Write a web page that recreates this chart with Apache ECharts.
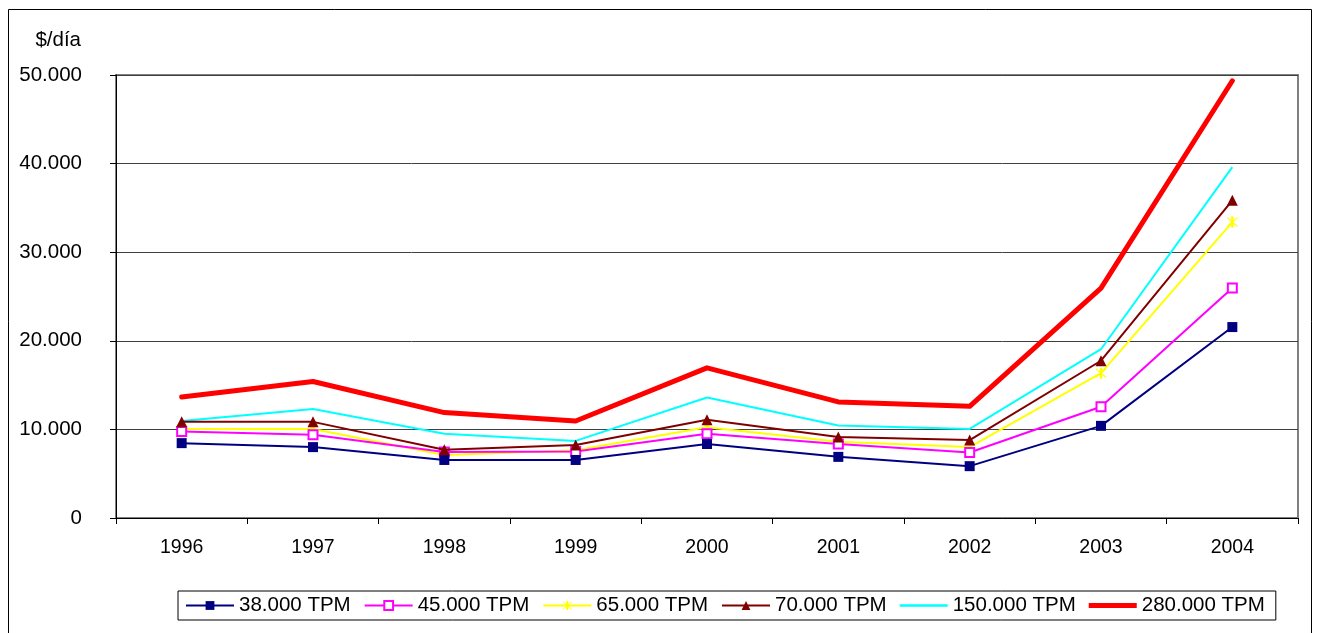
<!DOCTYPE html>
<html>
<head>
<meta charset="utf-8">
<title>$/día</title>
<script src="https://cdn.jsdelivr.net/npm/echarts@6/dist/echarts.min.js"></script>
<style>
    html, body { margin: 0; padding: 0; background: #fff; }
    #chart { width: 1318px; height: 633px; }
</style>
</head>
<body>
<div id="chart"></div>
<script>
// datos
var years = ['1996', '1997', '1998', '1999', '2000', '2001', '2002', '2003', '2004'];
var yTicks = [0, 10000, 20000, 30000, 40000, 50000];

var tpm38 = [8450, 8000, 6550, 6550, 8350, 6900, 5850, 10400, 21550];
var tpm45 = [9750, 9400, 7450, 7500, 9500, 8350, 7400, 12550, 25950];
var tpm65 = [10050, 10050, 7100, 7650, 10250, 8600, 8000, 16350, 33400];
var tpm70 = [10850, 10850, 7700, 8250, 11100, 9150, 8800, 17750, 35850];
var tpm150 = [10950, 12300, 9500, 8700, 13600, 10450, 10050, 19050, 39600];
var tpm280 = [13650, 15400, 11900, 10950, 16950, 13100, 12600, 25950, 49350];

var chart = echarts.init(document.getElementById('chart'));

var asterisco = 'path://M4,0 L6,0 L6,10 L4,10 Z M0.7,1.4 L1.4,0.7 L9.3,8.6 L8.6,9.3 Z M8.6,0.7 L9.3,1.4 L1.4,9.3 L0.7,8.6 Z';

function miles(v) {
    if (v === 0) return '0';
    return String(v).replace(/\B(?=(\d{3})+(?!\d))/g, '.');
}

var option = {
    backgroundColor: '#fff',
    animation: false,
    textStyle: { fontFamily: 'Liberation Sans, Arial, sans-serif' },
    graphic: [{
        type: 'rect',
        shape: { x: 8.5, y: 9.5, width: 1303, height: 640 },
        style: { fill: 'none', stroke: '#000', lineWidth: 1 },
        silent: true
    }],
    legend: {
        left: 178,
        top: 591,
        orient: 'horizontal',
        padding: [4, 11, 4, 7],
        borderColor: '#000',
        borderWidth: 1,
        itemWidth: 48,
        itemHeight: 11,
        itemGap: 13,
        textStyle: { fontSize: 20.5, color: '#000' },
        data: [
            '38.000 TPM', '45.000 TPM', '65.000 TPM', '70.000 TPM',
            { name: '150.000 TPM', icon: 'path://M0,0 L48,0 L48,2.4 L0,2.4 Z' },
            { name: '280.000 TPM', icon: 'path://M0,0 L48,0 L48,5 L0,5 Z' }
        ]
    },
    grid: {
        left: 116,
        top: 75,
        right: 20,
        bottom: 115,
        show: true,
        borderColor: '#808080',
        borderWidth: 2
    },
    xAxis: {
        type: 'category',
        data: years,
        boundaryGap: true,
        axisLine: { lineStyle: { color: '#000', width: 1 } },
        axisTick: { show: true, interval: 0, length: 6, lineStyle: { color: '#000' } },
        axisLabel: { fontSize: 19.5, color: '#000', margin: 20 }
    },
    yAxis: {
        type: 'value',
        min: yTicks[0],
        max: yTicks[yTicks.length - 1],
        interval: 10000,
        name: '$/día',
        nameLocation: 'end',
        nameGap: 24,
        nameTextStyle: { fontSize: 20.5, color: '#000', align: 'right', padding: [0, 35, 0, 0] },
        axisLine: { show: true, lineStyle: { color: '#000', width: 1 } },
        axisTick: { show: true, length: 6, lineStyle: { color: '#000' } },
        axisLabel: { fontSize: 20.5, color: '#000', margin: 34, formatter: miles },
        splitLine: { show: true, lineStyle: { color: '#404040', width: 1 } }
    },
    series: [
        {
            name: '38.000 TPM', type: 'line', data: tpm38, z: 8,
            symbol: 'rect', symbolSize: 10,
            itemStyle: { color: '#000080' },
            lineStyle: { color: '#000080', width: 2 }
        },
        {
            name: '45.000 TPM', type: 'line', data: tpm45, z: 7,
            symbol: 'rect', symbolSize: 9,
            itemStyle: { color: '#fff', borderColor: '#FF00FF', borderWidth: 2 },
            lineStyle: { color: '#FF00FF', width: 2 }
        },
        {
            name: '65.000 TPM', type: 'line', data: tpm65, z: 6,
            symbol: asterisco, symbolSize: 11,
            itemStyle: { color: '#FFFF00' },
            lineStyle: { color: '#FFFF00', width: 2 }
        },
        {
            name: '70.000 TPM', type: 'line', data: tpm70, z: 9,
            symbol: 'triangle', symbolSize: 11,
            itemStyle: { color: '#800000' },
            lineStyle: { color: '#800000', width: 2 }
        },
        {
            name: '150.000 TPM', type: 'line', data: tpm150, z: 5,
            symbol: 'none', showSymbol: false,
            itemStyle: { color: '#00FFFF' },
            lineStyle: { color: '#00FFFF', width: 2 }
        },
        {
            name: '280.000 TPM', type: 'line', data: tpm280, z: 10,
            symbol: 'none', showSymbol: false,
            itemStyle: { color: '#FF0000' },
            lineStyle: { color: '#FF0000', width: 5, cap: 'round', join: 'round' }
        }
    ]
};

chart.setOption(option);

window.addEventListener('resize', function () {
    chart.resize();
});
</script>
</body>
</html>
